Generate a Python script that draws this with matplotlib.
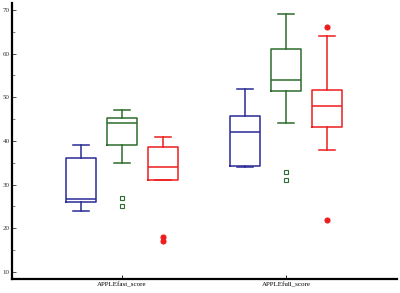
import numpy as np
import matplotlib.pyplot as plt

# 箱线图统计量
groups = ['APPLEfast_score', 'APPLEfull_score']
series = ['blue', 'green', 'red']
colors = ['#2b2b96', '#2e6b2e', '#ee1c1c']

whislo = [[24, 35, 31], [34, 44, 38]]
q1 = [[26.1, 39, 31.1], [34.2, 51.5, 43.2]]
med = [[26.8, 44, 34], [42, 54, 48]]
q3 = [[36.1, 45.2, 38.7], [45.6, 61.1, 51.7]]
whishi = [[39, 47, 41], [52, 69, 64]]
fliers = [[[], [27, 25], [18, 17]], [[], [33, 31], [66, 22]]]

offsets = [-0.25, 0, 0.25]
flier_style = [dict(marker='s', markerfacecolor='none', markersize=3.2),
               dict(marker='s', markerfacecolor='none', markersize=3.2),
               dict(marker='o', markersize=3.6)]

plt.rcParams['font.family'] = ['Liberation Serif', 'DejaVu Serif']

fig = plt.figure(figsize=(4, 2.93), dpi=100)
ax = fig.add_axes([0.03, 0.048, 0.9625, 0.942])

for s in range(3):
    stats = []
    for g in range(2):
        stats.append(dict(med=med[g][s], q1=q1[g][s], q3=q3[g][s],
                          whislo=whislo[g][s], whishi=whishi[g][s],
                          fliers=fliers[g][s]))
    pos = [1 + offsets[s], 2 + offsets[s]]
    c = colors[s]
    fp = dict(flier_style[s])
    fp.update(color=c, markeredgecolor=c, linestyle='none', markeredgewidth=0.8)
    if s == 2:
        fp['markerfacecolor'] = c
    ax.bxp(stats, positions=pos, widths=0.185, manage_ticks=False,
           boxprops=dict(color=c, linewidth=1.1),
           medianprops=dict(color=c, linewidth=1.1),
           whiskerprops=dict(color=c, linewidth=1.1),
           capprops=dict(color=c, linewidth=1.1),
           flierprops=fp)

ax.set_xlim(0.329, 2.677)
ax.set_ylim(8.4, 71.6)
ax.set_xticks([1, 2])
ax.set_xticklabels(groups, fontsize=5)
ax.set_yticks([10, 20, 30, 40, 50, 60, 70])
ax.set_yticks([15, 25, 35, 45, 55, 65], minor=True)
ax.tick_params(axis='y', labelsize=5, direction='in', length=3, width=0.6, pad=1.5, colors='#333333')
ax.tick_params(axis='y', which='minor', direction='in', length=2, width=0.5, color='#555555')
ax.tick_params(axis='x', labelsize=5, direction='in', length=3, width=0.6, pad=2)
for side in ['top', 'right']:
    ax.spines[side].set_visible(False)
for side in ['left', 'bottom']:
    ax.spines[side].set_linewidth(1.6)

fig.savefig('out.png', dpi=100)
